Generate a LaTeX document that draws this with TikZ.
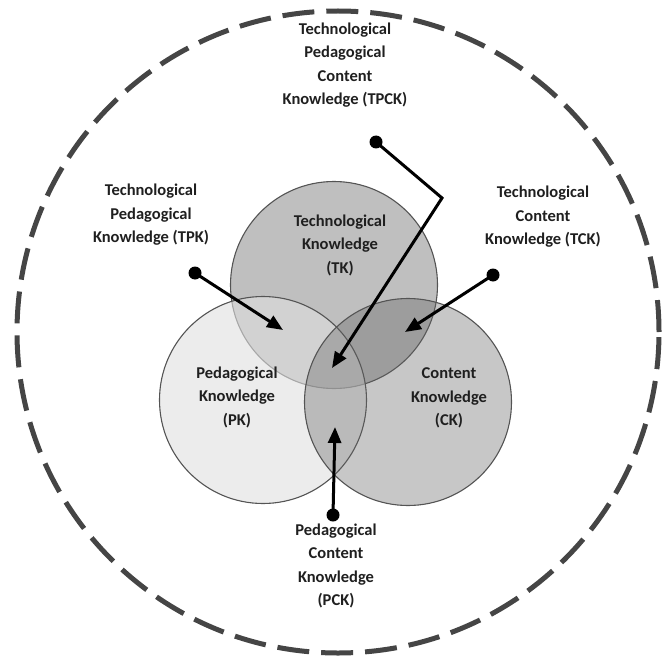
\documentclass[tikz,border=0pt]{standalone}
\usepackage{fontspec}
\setmainfont{Carlito}
\usetikzlibrary{arrows.meta}
\definecolor{ringgray}{gray}{0.27}
\definecolor{edgegray}{gray}{0.33}
\definecolor{labelblack}{gray}{0.12}
\definecolor{tkfill}{gray}{0.75}
\definecolor{pkfill}{gray}{0.88}
\definecolor{ckfill}{gray}{0.39}
\begin{document}
\begin{tikzpicture}[x=1pt,y=-1pt,
  ring/.style={draw=ringgray, line width=5pt, dash pattern=on 32pt off 12pt},
  knowset/.style={circle, draw=edgegray, line width=1.1pt, minimum size=207pt, inner sep=0pt},
  lbl/.style={align=center, font=\fontsize{16.5}{23.5}\selectfont\bfseries, text=labelblack, inner sep=0pt},
  pin/.style={circle, fill=black, minimum size=13pt, inner sep=0pt},
  pointer/.style={line width=3pt, -{Triangle[length=16pt,width=13pt]}},
]
\useasboundingbox (0,0) rectangle (663,663);

% outer context ring
\node[circle, minimum size=642pt, inner sep=0pt, ring] (context) at (338,332) {};

% the three knowledge sets
\node[knowset, fill=tkfill] (tk) at (334,285) {};
\node[knowset, fill=pkfill, fill opacity=0.6] (pk) at (263,400) {};
\node[knowset, fill=ckfill, fill opacity=0.36] (ck) at (408,402) {};

% set labels
\node[lbl] (tklabel) at (340,245) {Technological\\Knowledge\\(TK)};
\node[lbl] (pklabel) at (237,397) {Pedagogical\\Knowledge\\(PK)};
\node[lbl] (cklabel) at (449,398) {Content\\Knowledge\\(CK)};

% intersection labels
\node[lbl] (tpcklabel) at (345,65) {Technological\\Pedagogical\\Content\\Knowledge (TPCK)};
\node[lbl] (tpklabel) at (151,215) {Technological\\Pedagogical\\Knowledge (TPK)};
\node[lbl] (tcklabel) at (543,217) {Technological\\Content\\Knowledge (TCK)};
\node[lbl] (pcklabel) at (336,566) {Pedagogical\\Content\\Knowledge\\(PCK)};

% pointers into the intersections
\node[pin] (tpkdot) at (195,273) {};
\node[pin] (tckdot) at (493,275) {};
\node[pin] (tpckdot) at (376,142) {};
\node[pin] (pckdot) at (333,515) {};
\coordinate (tpkend) at (283,330);
\coordinate (tckend) at (405,332);
\coordinate (tpckbend) at (442,198);
\coordinate (tpckend) at (332,368);
\coordinate (pckend) at (335,427);

\draw[pointer] (tpkdot.center) -- (tpkend);
\draw[pointer] (tckdot.center) -- (tckend);
\draw[pointer] (tpckdot.center) -- (tpckbend) -- (tpckend);
\draw[pointer] (pckdot.center) -- (pckend);
\end{tikzpicture}
\end{document}
